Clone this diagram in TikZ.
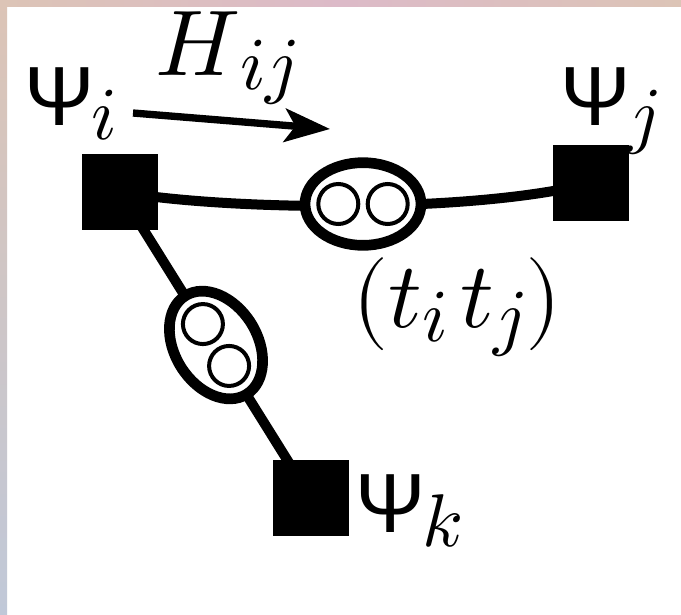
\documentclass[tikz,border=0pt]{standalone}
\usepackage{fontspec}
\usepackage{unicode-math}
\setmathfont{Latin Modern Math}
\newfontfamily\psifont{Liberation Sans}
\usepackage{xcolor}
\usetikzlibrary{arrows.meta,positioning,calc,shapes.geometric}

\definecolor{edgetan}{RGB}{220,196,182}
\definecolor{edgepink}{RGB}{220,186,200}
\definecolor{edgemauve}{RGB}{208,192,208}
\definecolor{edgeblue}{RGB}{192,200,216}

% lowered index, a bit larger than the usual script size
\newcommand{\idx}[1]{\raisebox{-11pt}{\fontsize{56}{60}\selectfont$#1$}}
\newcommand{\wavefn}[1]{{\fontsize{63}{70}\selectfont\psifont Ψ}\kern-2pt\idx{#1}}

\begin{document}
\begin{tikzpicture}[x=0.75pt,y=-0.75pt,
  site/.style={fill=black,minimum size=57pt,inner sep=0pt},
  pair/.style={ellipse,draw,fill=white,line width=8pt,minimum width=87pt,minimum height=62pt,inner sep=0pt},
  orb/.style={circle,draw,line width=3pt,minimum size=30pt,inner sep=0pt},
  bond/.style={line width=7.5pt},
  lbl/.style={inner sep=0pt,anchor=base west,font=\fontsize{70}{80}\selectfont}]
  % frame
  \useasboundingbox (0,0) rectangle (681,614);
  \fill[white] (0,0) rectangle (681,614);
  \shade[left color=edgetan,right color=edgepink] (0,0) rectangle (341,6);
  \shade[left color=edgepink,right color=edgetan] (340,0) rectangle (681,6);
  \shade[top color=edgetan,middle color=edgemauve,bottom color=edgeblue] (0,0) rectangle (7,614);
  % sites
  \node[site] (si) at (120,192) {};
  \node[site] (sj) at (591,183) {};
  \node[site] (sk) at (311,498) {};
  % bonds
  \draw[bond] (si.center) .. controls (240,212) and (480,212) .. (sj.center);
  \draw[bond] (si.center) -- (sk.center);
  % pairs (t_i t_j)
  \node[pair] (pij) at (363,204) {};
  \node[orb] (oa) at ($(pij.center)!0.39!(pij.west)$) {};
  \node[orb] (ob) at ($(pij.center)!0.39!(pij.east)$) {};
  \node[pair,rotate=-58] (pik) at (216,345) {};
  \node[orb] (oc) at ($(pik.center)!0.39!(pik.west)$) {};
  \node[orb] (od) at ($(pik.center)!0.39!(pik.east)$) {};
  % hopping arrow
  \coordinate (hs) at (133,113);
  \coordinate (he) at (330,129);
  \draw[line width=5.5pt,-{Stealth[length=34pt,width=25pt,inset=8pt]}] (hs) -- (he);
  % labels
  \node[lbl] (li) at (24,125) {\wavefn{i}};
  \node[lbl] (lh) at (155,75) {$H$\idx{ij}};
  \node[lbl] (lj) at (560,125) {\wavefn{j}};
  \node[lbl] (lt) at (352,327) {$(t$\idx{i}\kern9pt$t$\idx{j}$)$};
  \node[lbl] (lk) at (355,532) {\wavefn{k}};
\end{tikzpicture}
\end{document}
